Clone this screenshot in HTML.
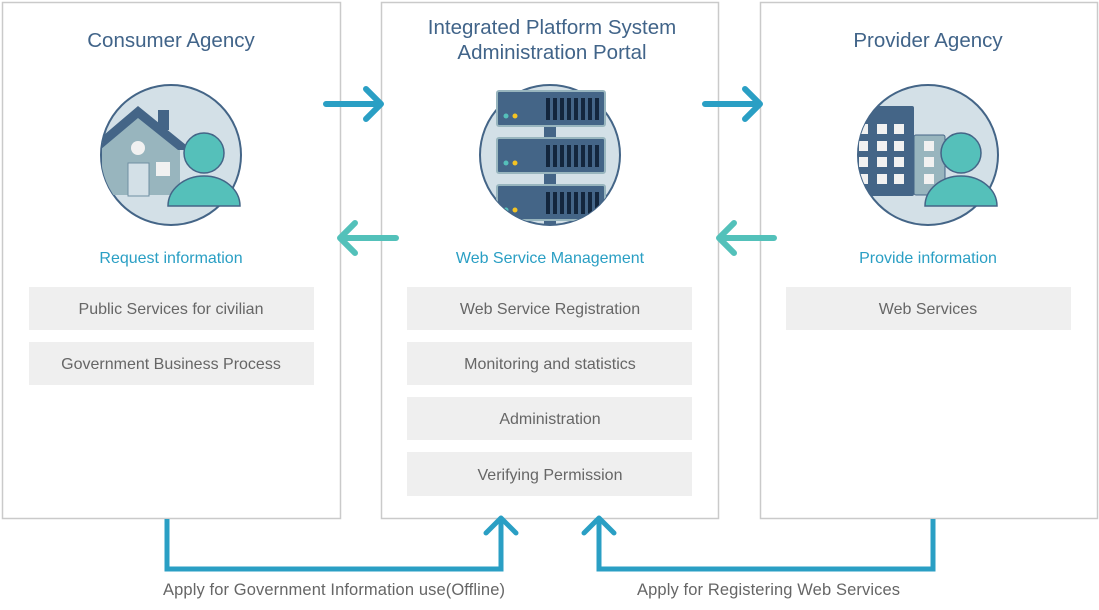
<!DOCTYPE html>
<html><head><meta charset="utf-8"><style>
html,body{margin:0;padding:0;background:#fff;width:1099px;height:610px;overflow:hidden}
svg{display:block}
text{font-family:"Liberation Sans",Arial,sans-serif}
</style></head><body>
<svg width="1099" height="610" viewBox="0 0 1099 610">
<g fill="#fff" stroke="#cacaca" stroke-width="1.5">
<rect x="2.5" y="2.5" width="338" height="516"/>
<rect x="381.5" y="2.5" width="337" height="516"/>
<rect x="760.5" y="2.5" width="337" height="516"/>
</g>
<g font-size="20.5" fill="#416489" text-anchor="middle">
<text x="171" y="47">Consumer Agency</text>
<text x="552" y="34">Integrated Platform System</text>
<text x="552" y="59">Administration Portal</text>
<text x="928" y="47">Provider Agency</text>
</g>
<g font-size="16" fill="#2a9fc4" text-anchor="middle">
<text x="171" y="263">Request information</text>
<text x="550" y="263">Web Service Management</text>
<text x="928" y="263">Provide information</text>
</g>
<g fill="#efefef">
<rect x="29" y="287" width="285" height="43"/>
<rect x="29" y="342" width="285" height="43"/>
<rect x="407" y="287" width="285" height="43"/>
<rect x="407" y="342" width="285" height="43"/>
<rect x="407" y="397" width="285" height="43"/>
<rect x="407" y="452" width="285" height="44"/>
<rect x="786" y="287" width="285" height="43"/>
</g>
<g font-size="16" fill="#666" text-anchor="middle">
<text x="171" y="314">Public Services for civilian</text>
<text x="171" y="369">Government Business Process</text>
<text x="550" y="314">Web Service Registration</text>
<text x="550" y="369">Monitoring and statistics</text>
<text x="550" y="424">Administration</text>
<text x="550" y="480">Verifying Permission</text>
<text x="928" y="314">Web Services</text>
</g>
<g fill="none" stroke-width="6" stroke-linecap="round" stroke-linejoin="round">
<g stroke="#2a9fc4">
<path d="M326 104H381M366 89L381 104L366 119"/>
<path d="M705 104H760M745 89L760 104L745 119"/>
</g>
<g stroke="#53c1ba">
<path d="M396 238H340M355 223L340 238L355 253"/>
<path d="M774 238H719M734 223L719 238L734 253"/>
</g>
</g>
<g fill="none" stroke="#2a9fc4" stroke-width="5" stroke-linejoin="miter">
<path d="M167 519V569H501V520"/>
<path d="M486 533L501 518L516 533" stroke-linecap="round" stroke-linejoin="round"/>
<path d="M933 519V569H599V520"/>
<path d="M584 533L599 518L614 533" stroke-linecap="round" stroke-linejoin="round"/>
</g>
<g font-size="16.5" fill="#666">
<text x="163" y="595" textLength="342">Apply for Government Information use(Offline)</text>
<text x="637" y="595" textLength="263">Apply for Registering Web Services</text>
</g>
<defs>
<clipPath id="c1"><circle cx="171" cy="155" r="70"/></clipPath>
<clipPath id="c2"><circle cx="550" cy="155" r="70"/><rect x="480" y="80" width="140" height="110"/></clipPath>
<clipPath id="c3"><circle cx="928" cy="155" r="70"/></clipPath>
</defs>
<circle cx="171" cy="155" r="70" fill="#d3e0e7" stroke="#446587" stroke-width="2"/>
<g clip-path="url(#c1)">
<polygon points="102,142 138,112 180,142 180,195 102,195" fill="#98b5be"/>
<rect x="158" y="110" width="11" height="20" fill="#446587"/>
<polygon points="98,140 138,106 186,145 186,150 178,150 138,118 100,150" fill="#446587"/>
<circle cx="138" cy="148" r="7" fill="#f1f1f1"/>
<rect x="128" y="163" width="21" height="33" fill="#d3e0e7" stroke="#6f8fa3"/>
<rect x="156" y="162" width="14" height="14" fill="#f1f1f1"/>
</g>
<circle cx="204" cy="153" r="20" fill="#55c0ba" stroke="#446587" stroke-width="1.5"/>
<path d="M168 206a36 30 0 0 1 72 0z" fill="#55c0ba" stroke="#446587" stroke-width="1.5"/>
<circle cx="550" cy="155" r="70" fill="#d3e0e7" stroke="#446587" stroke-width="2"/>
<g clip-path="url(#c2)">
<rect x="544" y="120" width="12" height="110" fill="#446587"/>
<g id="srv">
<rect x="497" y="91" width="108" height="35" rx="2" fill="#446587" stroke="#98b5be" stroke-width="2"/>
<circle cx="506" cy="116" r="2.5" fill="#55c0ba"/><circle cx="515" cy="116" r="2.5" fill="#f4c322"/>
<g fill="#13263d"><rect x="546" y="98" width="4" height="22"/><rect x="553" y="98" width="4" height="22"/><rect x="560" y="98" width="4" height="22"/><rect x="567" y="98" width="4" height="22"/><rect x="574" y="98" width="4" height="22"/><rect x="581" y="98" width="4" height="22"/><rect x="588" y="98" width="4" height="22"/><rect x="595" y="98" width="4" height="22"/></g>
</g>
<use href="#srv" y="47"/>
<use href="#srv" y="94"/>
</g>
<circle cx="928" cy="155" r="70" fill="#d3e0e7" stroke="#446587" stroke-width="2"/>
<g clip-path="url(#c3)">
<rect x="850" y="106" width="64" height="90" rx="2" fill="#446587"/>
<rect x="914" y="135" width="31" height="60" rx="2" fill="#98b5be" stroke="#446587"/>
<g fill="#f1f1f1">
<rect x="859" y="124" width="9" height="10"/><rect x="877" y="124" width="10" height="10"/><rect x="894" y="124" width="10" height="10"/>
<rect x="859" y="141" width="9" height="10"/><rect x="877" y="141" width="10" height="10"/><rect x="894" y="141" width="10" height="10"/>
<rect x="859" y="157" width="9" height="10"/><rect x="877" y="157" width="10" height="10"/><rect x="894" y="157" width="10" height="10"/>
<rect x="859" y="174" width="9" height="10"/><rect x="877" y="174" width="10" height="10"/><rect x="894" y="174" width="10" height="10"/>
<rect x="924" y="141" width="10" height="10"/><rect x="924" y="157" width="10" height="10"/><rect x="924" y="174" width="10" height="10"/>
</g>
</g>
<circle cx="961" cy="153" r="20" fill="#55c0ba" stroke="#446587" stroke-width="1.5"/>
<path d="M925 206a36 30 0 0 1 72 0z" fill="#55c0ba" stroke="#446587" stroke-width="1.5"/>
</svg>
</body></html>
